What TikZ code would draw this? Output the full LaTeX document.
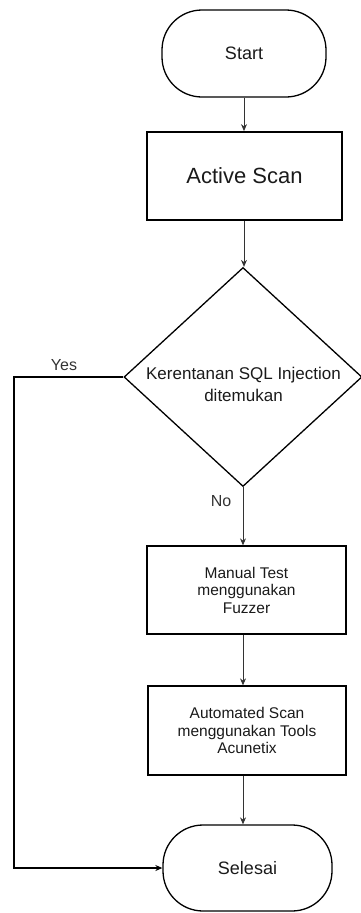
\documentclass[tikz,border=0pt]{standalone}
\usepackage{fontspec}
\setmainfont{Liberation Sans}
\usetikzlibrary{shapes.geometric,arrows.meta}
\definecolor{lineg}{HTML}{333333}
\definecolor{txt}{HTML}{1A1A1A}
\begin{document}
\begin{tikzpicture}[x=1pt,y=-1pt,
  term/.style={draw=black,line width=1.3pt,rounded corners=40pt,minimum height=87pt,inner sep=0pt,text=txt},
  procbox/.style={draw=black,line width=1.3pt,inner sep=0pt,text=txt,align=center},
  arr/.style={draw=lineg,line width=1pt,-{Stealth[length=7pt,width=6pt]}},
  lbl/.style={text=lineg,inner sep=0pt,font=\fontsize{16}{18}\selectfont}
]
\useasboundingbox (0,0) rectangle (360,913);

\node[term,minimum width=164pt] (start) at (244,53.5) {\fontsize{18}{20}\selectfont Start};
\node[procbox,line width=1.8pt,minimum width=195pt,minimum height=88pt] (active) at (244.5,176) {\fontsize{22}{24}\selectfont Active Scan};
\node[diamond,draw=black,line width=1.3pt,minimum width=238pt,minimum height=219pt,inner sep=0pt] (dec) at (243,377) {};
\node[inner sep=0pt,align=center,text=txt,font=\fontsize{17}{22}\selectfont] (dectext) at (243.5,384) {Kerentanan SQL Injection\\ditemukan};
\node[procbox,minimum width=199pt,minimum height=88pt,font=\fontsize{15.5}{17.5}\selectfont] (manual) at (246.5,590) {Manual Test\\menggunakan\\Fuzzer};
\node[procbox,minimum width=198pt,minimum height=89pt,font=\fontsize{15.5}{17.5}\selectfont] (auto) at (247,730.5) {Automated Scan\\menggunakan Tools\\Acunetix};
\node[term,minimum width=169pt,minimum height=86pt] (end) at (247.5,868) {\fontsize{18}{20}\selectfont Selesai};

\coordinate (yk) at (14,377);

\draw[arr] (start.south) -- (start.south |- active.north);
\draw[arr] (active.south -| start.south) -- (start.south |- dec.north);
\draw[arr] (dec.south) -- (dec.south |- manual.north);
\draw[arr] (manual.south -| dec.south) -- (dec.south |- auto.north);
\draw[arr] (auto.south -| dec.south) -- (dec.south |- end.north);
\draw[arr,draw=black,line width=1.3pt] (dec.west) -- (yk) |- (end.west);

\node[lbl] (yes) at (64,365) {Yes};
\node[lbl] (no) at (221,501) {No};
\end{tikzpicture}
\end{document}
